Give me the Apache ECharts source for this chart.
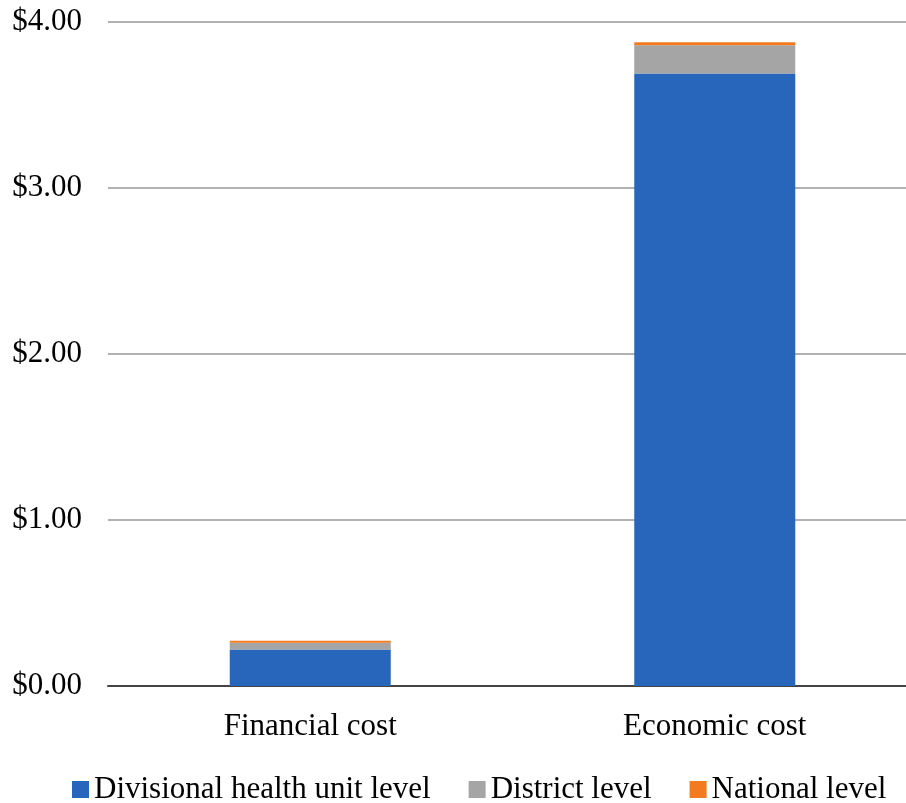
<!DOCTYPE html>
<html><head><meta charset="utf-8">
<script src="https://cdn.jsdelivr.net/npm/echarts@6/dist/echarts.min.js"></script>
<style>html,body{margin:0;padding:0;background:#fff;overflow:hidden}#c{width:917px;height:803px}</style>
</head><body><div id="c"></div>
<script>
const categories = ['Financial cost', 'Economic cost'];
const divisional = [0.22, 3.69];
const district = [0.04, 0.17];
const national = [0.012, 0.018];
const seriesNames = ['Divisional health unit level', 'District level', 'National level'];
const colors = ['#2866BC', '#A5A5A5', '#F47A20'];

const chart = echarts.init(document.getElementById('c'));
const font = 'Liberation Serif, Times New Roman, serif';
chart.setOption({
  animation: false,
  textStyle: {fontFamily: font},
  grid: {left: 108, top: 22, right: 0, height: 664},
  legend: {
    top: 769, left: 67, itemWidth: 17, itemHeight: 17, itemGap: 38,
    icon: 'rect',
    textStyle: {fontFamily: font, fontSize: 31, color: '#000'},
    data: seriesNames
  },
  xAxis: {
    type: 'category', data: categories,
    axisLine: {lineStyle: {color: '#444', width: 2}},
    axisTick: {show: false},
    axisLabel: {fontFamily: font, fontSize: 31, color: '#000', margin: 25}
  },
  yAxis: {
    type: 'value', min: 0, max: 4, interval: 1,
    axisLine: {show: false}, axisTick: {show: false},
    splitLine: {lineStyle: {color: '#999', width: 1.5}},
    axisLabel: {fontFamily: font, fontSize: 31, color: '#000', margin: 26,
      formatter: v => '$' + v.toFixed(2)}
  },
  series: [
    {name: seriesNames[0], type: 'bar', stack: 's', data: divisional, barWidth: 161, itemStyle: {color: colors[0]}},
    {name: seriesNames[1], type: 'bar', stack: 's', data: district, itemStyle: {color: colors[1]}},
    {name: seriesNames[2], type: 'bar', stack: 's', data: national, itemStyle: {color: colors[2]}}
  ]
});
</script></body></html>
